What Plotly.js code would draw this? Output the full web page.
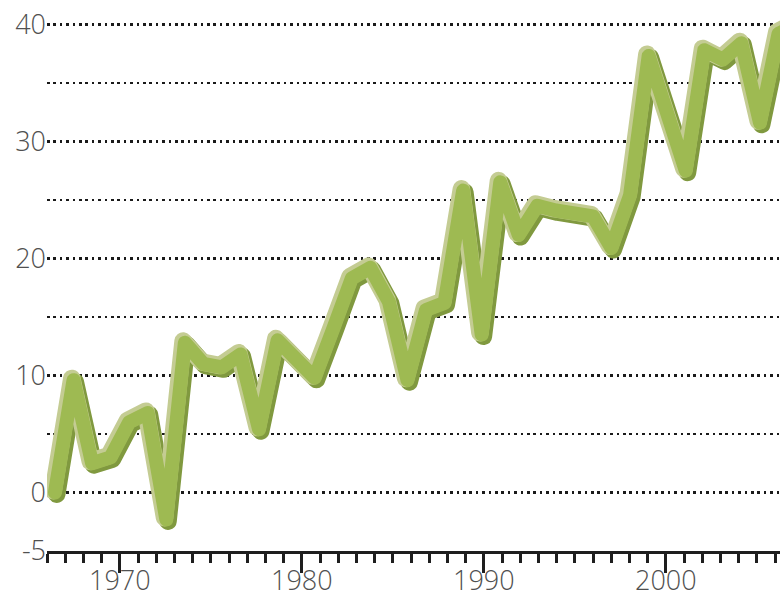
<!DOCTYPE html>
<html>
<head>
<meta charset="utf-8">
<script src="https://cdn.plot.ly/plotly-3.0.1.min.js"></script>
<style>
  html, body { margin: 0; padding: 0; background: #fff; }
  #chart { width: 780px; height: 597px; }
  .scatterlayer path.js-line { stroke-linejoin: round !important; stroke-linecap: round !important; }
</style>
</head>
<body>
<div id="chart"></div>
<script>
// ---- data ----
const years = [1966,1967,1968,1969,1970,1971,1972,1973,1974,1975,
               1976,1977,1978,1979,1980,1981,1982,1983,1984,1985,
               1986,1987,1988,1989,1990,1991,1992,1993,1994,1995,
               1996,1997,1998,1999,2000,2001,2002,2003,2004,2005,2006];
const values = [0.0, 9.6, 2.5, 3.0, 6.0, 6.8, -2.3, 12.8, 11.0, 10.7,
                11.8, 5.4, 13.0, 11.4, 9.8, 14.0, 18.3, 19.2, 16.3, 9.6,
                15.6, 16.2, 25.8, 13.5, 26.5, 22.0, 24.5, 24.1, 23.8, 23.6,
                20.9, 25.4, 37.3, 32.4, 27.5, 37.8, 37.0, 38.4, 31.6, 39.2, 40.0];
const yTickVals = [-5, 0, 5, 10, 15, 20, 25, 30, 35, 40];
const yTickText = ['-5', '0', '', '10', '', '20', '', '30', '', '40'];
const xTickVals = [1970, 1980, 1990, 2000];
const xTickText = ['1970', '1980', '1990', '2000'];

// ---- layout geometry ----
const W = 780, H = 597;
const margin = {l: 47, r: 0, t: 1, b: 46, pad: 0};
const xRange = [1966, 2006.27];        // tick scale
const lineXRange = [1966.07, 2005.58]; // the drawn line is slightly stretched in the original
const yRange = [-5, 42];
const plotW = W - margin.l - margin.r;
const plotH = H - margin.t - margin.b;
const pxPerX = plotW / (lineXRange[1] - lineXRange[0]);
const pxPerY = plotH / (yRange[1] - yRange[0]);
const shiftPx = 1.75;
const dx = shiftPx / pxPerX, dy = shiftPx / pxPerY;

// points sit in the middle of each year interval
const xs = years.map(y => y + 0.5);

const lineColor = '#9eba52';
const darkEdge = '#80993f';
const lightEdge = '#c4cc93';

const traces = [
  // base subplot carries the grid and ticks
  {x: xs, y: values, xaxis: 'x', yaxis: 'y', mode: 'lines', type: 'scatter',
   line: {color: 'rgba(0,0,0,0)', width: 1}, hoverinfo: 'skip', showlegend: false},
  {x: xs, y: values, xaxis: 'x2', yaxis: 'y2', mode: 'lines', type: 'scatter',
   line: {color: darkEdge, width: 17.5}, hoverinfo: 'skip', showlegend: false},
  {x: xs, y: values, xaxis: 'x3', yaxis: 'y3', mode: 'lines', type: 'scatter',
   line: {color: lightEdge, width: 17.5}, hoverinfo: 'skip', showlegend: false},
  {x: xs, y: values, xaxis: 'x4', yaxis: 'y4', mode: 'lines', type: 'scatter',
   line: {color: lineColor, width: 14}, hoverinfo: 'skip', showlegend: false}
];

const hiddenAxis = (range, over, anchor) => ({range: range, overlaying: over, anchor: anchor,
  showgrid: false, zeroline: false, showline: false, showticklabels: false, ticks: '', fixedrange: true});

const layout = {
  width: W, height: H,
  margin: margin,
  paper_bgcolor: '#ffffff', plot_bgcolor: 'rgba(0,0,0,0)',
  showlegend: false,
  font: {family: 'Open Sans, sans-serif', color: '#505050'},
  xaxis: {
    range: xRange, fixedrange: true,
    showgrid: false, zeroline: false,
    showline: true, linewidth: 3, linecolor: '#1e1e1e',
    tickmode: 'array', tickvals: xTickVals, ticktext: xTickText,
    ticks: 'outside', ticklen: 19, tickwidth: 3, tickcolor: '#1e1e1e',
    ticklabelstandoff: -15,
    tickfont: {size: 27, color: '#505050', family: 'Open Sans, sans-serif', weight: 300},
    minor: {dtick: 1, tick0: 1966, ticks: 'outside', ticklen: 9, tickwidth: 3, tickcolor: '#1e1e1e', showgrid: false}
  },
  yaxis: {
    range: yRange, fixedrange: true,
    showline: false, zeroline: false,
    tickmode: 'array', tickvals: yTickVals, ticktext: yTickText,
    ticks: '',
    showgrid: true, gridcolor: '#1a1a1a', gridwidth: 2.6, griddash: '2.6px,3.8px',
    tickfont: {size: 27, color: '#505050', family: 'Open Sans, sans-serif', weight: 300}
  },
  // offset copies of the line scale give the embossed edges of the thick line
  xaxis2: hiddenAxis([lineXRange[0] - dx, lineXRange[1] - dx], 'x', 'y2'),
  yaxis2: hiddenAxis([yRange[0] + dy, yRange[1] + dy], 'y', 'x2'),
  xaxis3: hiddenAxis([lineXRange[0] + dx, lineXRange[1] + dx], 'x', 'y3'),
  yaxis3: hiddenAxis([yRange[0] - dy, yRange[1] - dy], 'y', 'x3'),
  xaxis4: hiddenAxis(lineXRange.slice(), 'x', 'y4'),
  yaxis4: hiddenAxis(yRange.slice(), 'y', 'x4')
};

Plotly.newPlot('chart', traces, layout, {staticPlot: true, displayModeBar: false});
</script>
</body>
</html>
